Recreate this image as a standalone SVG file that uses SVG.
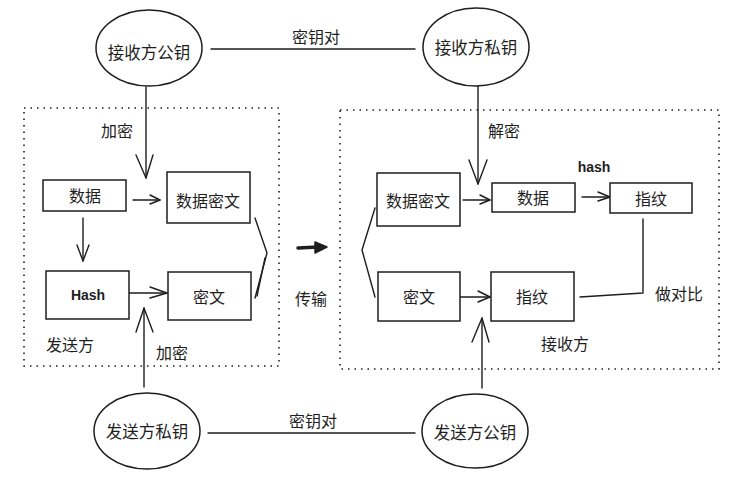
<svg xmlns="http://www.w3.org/2000/svg" width="750" height="479" viewBox="0 0 750 479">
<style>
.bg{fill:#ffffff}
.shape{fill:none;stroke:#1e1e1e;stroke-width:1.5}
.box{fill:#ffffff;stroke:#1e1e1e;stroke-width:1.5}
.dot{fill:none;stroke:#1e1e1e;stroke-width:1.6;stroke-dasharray:1.5 5}
.ln{fill:none;stroke:#1e1e1e;stroke-width:1.4;stroke-linecap:round;stroke-linejoin:round}
.t{font-family:"Noto Sans CJK SC","Noto Sans",sans-serif;font-size:16px;fill:#1e1e1e;text-anchor:middle;dominant-baseline:central}
.te{font-size:16.5px}
.h{font-family:"Liberation Sans",sans-serif;font-size:14px;font-weight:bold;fill:#1e1e1e;text-anchor:middle;dominant-baseline:central}
</style>
<rect class="bg" x="0" y="0" width="750" height="479"/>

<g id="sender-area">
  <rect class="dot" x="24" y="108" width="255" height="258"/>
  <text class="t" x="70" y="344">发送方</text>
</g>
<g id="receiver-area">
  <rect class="dot" x="340" y="110" width="379" height="259"/>
  <text class="t" x="565" y="343">接收方</text>
</g>

<g id="connectors">
  <line class="ln" x1="211" y1="49" x2="415" y2="49"/>
  <text class="t" x="316" y="36">密钥对</text>
  <line class="ln" x1="208" y1="433" x2="415" y2="433"/>
  <text class="t" x="313" y="420">密钥对</text>

  <line class="ln" x1="146" y1="87" x2="146" y2="178"/>
  <polyline class="ln" points="136,155 146,178 153,155"/>
  <text class="t" x="117" y="130">加密</text>

  <line class="ln" x1="133" y1="200" x2="160" y2="200"/>
  <polyline class="ln" points="150,195 160,200 150,204"/>

  <line class="ln" x1="83" y1="218" x2="83" y2="261"/>
  <polyline class="ln" points="77,245 83,261 89,245"/>

  <line class="ln" x1="129" y1="293" x2="167" y2="293"/>
  <polyline class="ln" points="150,287 167,293 150,298"/>

  <line class="ln" x1="144" y1="387" x2="144" y2="308"/>
  <polyline class="ln" points="136,332 144,308 153,332"/>
  <text class="t" x="172" y="352">加密</text>

  <polyline class="ln" points="255,218 267,253 255,298"/>
  <polyline class="ln" points="265,258 257,296"/>
  <polyline class="ln" points="375,208 362,250 375,297"/>

  <line x1="298" y1="248" x2="318" y2="247" stroke="#1e1e1e" stroke-width="3.5" stroke-linecap="round"/>
  <polygon points="315,242 327,247 315,253" fill="#1e1e1e" stroke="#1e1e1e" stroke-width="1.5" stroke-linejoin="round"/>
  <text class="t" x="311" y="298">传输</text>

  <line class="ln" x1="478" y1="86" x2="478" y2="184"/>
  <polyline class="ln" points="469,160 478,184 487,160"/>
  <text class="t" x="504" y="130">解密</text>

  <line class="ln" x1="463" y1="200" x2="490" y2="200"/>
  <polyline class="ln" points="480,195 490,200 480,204"/>

  <line class="ln" x1="582" y1="197" x2="610" y2="197"/>
  <polyline class="ln" points="598,192 610,197 598,201"/>
  <text class="h" x="594" y="167">hash</text>

  <polyline class="ln" points="643,219 643,293 580,297"/>
  <text class="t" x="679" y="293">做对比</text>

  <line class="ln" x1="460" y1="297" x2="490" y2="297"/>
  <polyline class="ln" points="478,291 490,297 478,302"/>

  <line class="ln" x1="482" y1="388" x2="482" y2="318"/>
  <polyline class="ln" points="472,342 482,318 489,342"/>
</g>

<g id="recv-pub">
  <ellipse class="shape" cx="149" cy="48" rx="53" ry="38"/>
  <text class="t te" x="149" y="52">接收方公钥</text>
</g>
<g id="recv-priv">
  <ellipse class="shape" cx="476" cy="47" rx="53" ry="39"/>
  <text class="t te" x="476" y="47">接收方私钥</text>
</g>
<g id="send-priv">
  <ellipse class="shape" cx="147" cy="431" rx="53" ry="38"/>
  <text class="t te" x="147" y="431">发送方私钥</text>
</g>
<g id="send-pub">
  <ellipse class="shape" cx="475" cy="431" rx="53" ry="37"/>
  <text class="t te" x="475" y="432">发送方公钥</text>
</g>

<g id="s-data">
  <rect class="box" x="43" y="180" width="83" height="31"/>
  <text class="t" x="85" y="195">数据</text>
</g>
<g id="s-cipherdata">
  <rect class="box" x="167" y="172" width="83" height="51"/>
  <text class="t" x="208" y="200">数据密文</text>
</g>
<g id="s-hash">
  <rect class="box" x="46" y="271" width="83" height="48"/>
  <text class="h" x="88" y="295">Hash</text>
</g>
<g id="s-cipher">
  <rect class="box" x="168" y="272" width="83" height="48"/>
  <text class="t" x="209" y="296">密文</text>
</g>

<g id="r-cipherdata">
  <rect class="box" x="377" y="173" width="83" height="53"/>
  <text class="t" x="418" y="200">数据密文</text>
</g>
<g id="r-data">
  <rect class="box" x="492" y="183" width="83" height="29"/>
  <text class="t" x="533" y="197">数据</text>
</g>
<g id="r-fp1">
  <rect class="box" x="610" y="183" width="82" height="30"/>
  <text class="t" x="651" y="198">指纹</text>
</g>
<g id="r-cipher">
  <rect class="box" x="378" y="272" width="82" height="49"/>
  <text class="t" x="419" y="296">密文</text>
</g>
<g id="r-fp2">
  <rect class="box" x="491" y="272" width="83" height="49"/>
  <text class="t" x="532" y="296">指纹</text>
</g>
</svg>
